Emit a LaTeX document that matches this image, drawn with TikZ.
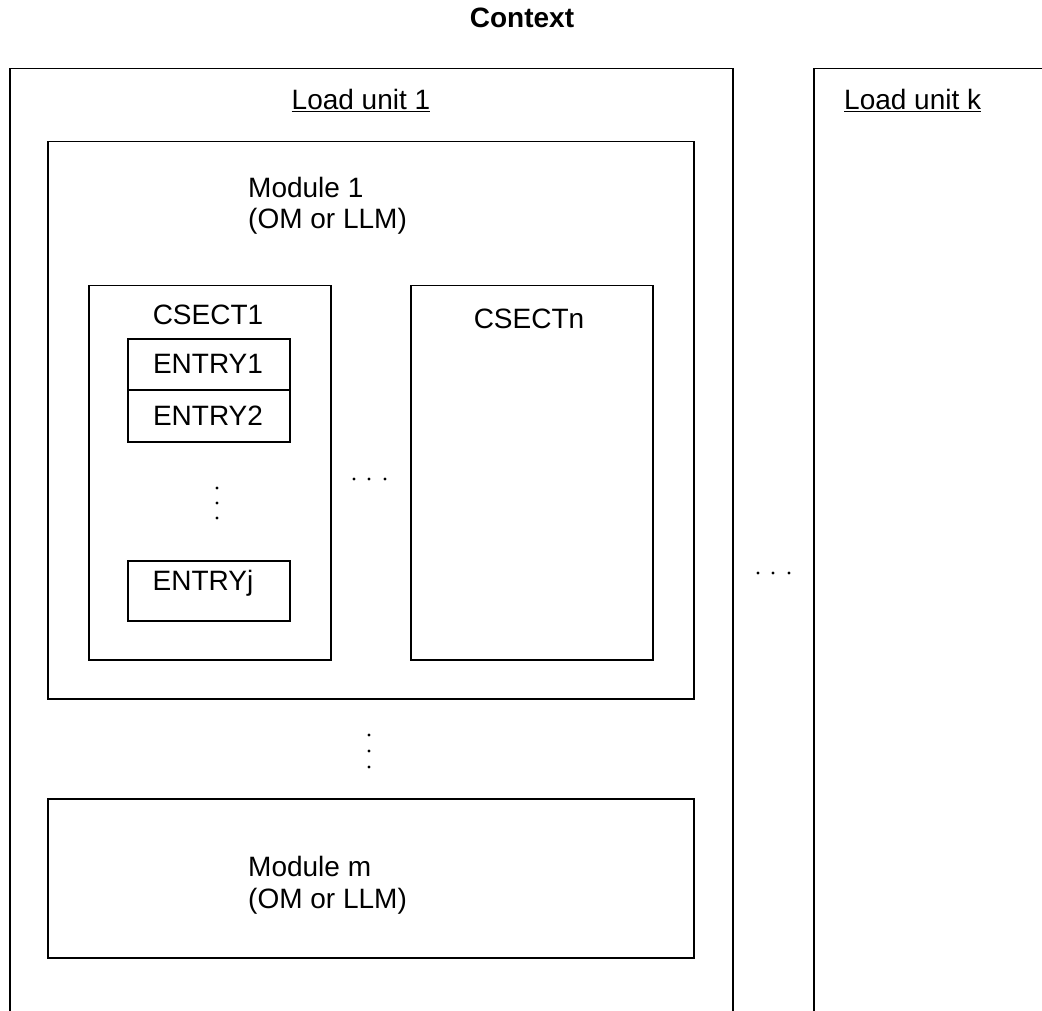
\documentclass[tikz,border=0pt]{standalone}
\usepackage{fontspec}
\setmainfont{Liberation Sans}
\begin{document}
\begin{tikzpicture}[x=1pt, y=-1pt,
  every node/.style={font=\fontsize{28}{32}\selectfont, inner sep=0pt},
  frame/.style={draw, line width=1.5pt, anchor=north west, inner sep=0pt},
  label/.style={anchor=base},
  lefttext/.style={anchor=base west},
  dotmark/.style={fill, circle, minimum size=3.2pt, inner sep=0pt}]

\useasboundingbox (0,0) rectangle (1042,1011);
\clip (0,0) rectangle (1042,1011);

% title
\node[label, font=\fontsize{28}{32}\selectfont\bfseries] (title) at (522,28) {Context};

% load units (they run past the lower edge)
\node[frame, minimum width=723pt, minimum height=980pt] (lu1) at (9,68) {};
\node[frame, minimum width=260pt, minimum height=980pt] (luk) at (813,68) {};
\node[label] (lu1t) at (361,110) {\underline{Load unit 1}};
\node[lefttext] (lukt) at (844,110) {\underline{Load unit k}};

% module 1
\node[frame, minimum width=646pt, minimum height=557pt] (mod1) at (47,141) {};
\node[lefttext] (mod1a) at (248,198) {Module 1};
\node[lefttext] (mod1b) at (248,229) {(OM or LLM)};

% control sections
\node[frame, minimum width=242pt, minimum height=374pt] (cs1) at (88,285) {};
\node[frame, minimum width=242pt, minimum height=374pt] (csn) at (410,285) {};
\node[label] (cs1t) at (208,324) {CSECT1};
\node[label] (csnt) at (529,328) {CSECTn};

% entries
\node[frame, minimum width=162pt, minimum height=51pt] (e1) at (127,338) {};
\node[frame, minimum width=162pt, minimum height=52pt] (e2) at (127,389) {};
\node[frame, minimum width=162pt, minimum height=60pt] (ej) at (127,560) {};
\node[label] (e1t) at (208,373) {ENTRY1};
\node[label] (e2t) at (208,425) {ENTRY2};
\node[label] (ejt) at (203,590) {ENTRYj};

% ellipsis marks
\foreach \yy [count=\i] in {488,503,518}
  \node[dotmark] (ve\i) at (217,\yy) {};
\foreach \xx [count=\i] in {354,369,385}
  \node[dotmark] (hc\i) at (\xx,479) {};
\foreach \yy [count=\i] in {735,751,767}
  \node[dotmark] (vm\i) at (369,\yy) {};
\foreach \xx [count=\i] in {758,773,789}
  \node[dotmark] (hl\i) at (\xx,573) {};

% module m
\node[frame, minimum width=646pt, minimum height=159pt] (modm) at (47,798) {};
\node[lefttext] (modma) at (248,876) {Module m};
\node[lefttext] (modmb) at (248,908) {(OM or LLM)};

\end{tikzpicture}
\end{document}
